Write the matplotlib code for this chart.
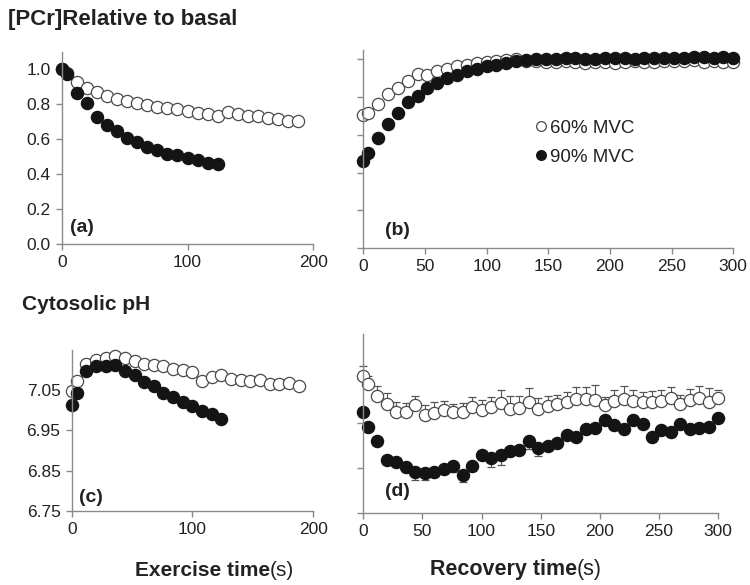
import matplotlib
matplotlib.use("Agg")
import matplotlib.pyplot as plt
from matplotlib.lines import Line2D

plt.rcParams['font.family'] = ['Liberation Sans', 'DejaVu Sans']

# time points (s)
t_ex60 = [0, 4, 12, 20, 28, 36, 44, 52, 60, 68, 76, 84, 92, 100, 108, 116, 124,
          132, 140, 148, 156, 164, 172, 180, 188]
t_ex90 = [0, 4, 12, 20, 28, 36, 44, 52, 60, 68, 76, 84, 92, 100, 108, 116, 124]
t_rec = [0, 4, 12, 20, 28, 36, 44, 52, 60, 68, 76, 84, 92, 100, 108, 116, 124,
         132, 140, 148, 156, 164, 172, 180, 188, 196, 204, 212, 220, 228, 236,
         244, 252, 260, 268, 276, 284, 292, 300]

# (a) PCr during exercise
pcr_ex60 = [1.0, 0.98, 0.924, 0.895, 0.867, 0.848, 0.83, 0.816, 0.805, 0.795,
            0.786, 0.778, 0.77, 0.76, 0.752, 0.745, 0.734, 0.757, 0.745, 0.735,
            0.73, 0.72, 0.715, 0.706, 0.706]
pcr_ex90 = [1.0, 0.97, 0.863, 0.806, 0.729, 0.681, 0.649, 0.607, 0.583, 0.554,
            0.535, 0.516, 0.507, 0.493, 0.478, 0.465, 0.455]

# (b) PCr during recovery
pcr_rec60 = [0.707, 0.716, 0.764, 0.818, 0.85, 0.885, 0.924, 0.92, 0.938, 0.947,
             0.965, 0.973, 0.982, 0.985, 0.99, 0.995, 1.0, 0.99, 0.99, 0.985,
             0.985, 0.99, 0.985, 0.98, 0.985, 0.985, 0.98, 0.985, 0.99, 0.985,
             0.985, 0.99, 0.99, 0.99, 0.995, 0.985, 0.99, 0.985, 0.985]
pcr_rec90 = [0.46, 0.504, 0.583, 0.66, 0.716, 0.775, 0.805, 0.85, 0.876, 0.903,
             0.92, 0.938, 0.947, 0.965, 0.973, 0.982, 0.99, 0.995, 1.0, 1.0,
             1.003, 1.005, 1.005, 1.0, 1.003, 1.005, 1.008, 1.005, 1.003, 1.005,
             1.008, 1.01, 1.008, 1.01, 1.012, 1.015, 1.01, 1.012, 1.005]

# (c) pH during exercise
ph_ex60 = [7.047, 7.072, 7.115, 7.125, 7.129, 7.135, 7.131, 7.123, 7.115, 7.113,
           7.109, 7.103, 7.101, 7.095, 7.074, 7.082, 7.087, 7.079, 7.076, 7.072,
           7.076, 7.065, 7.065, 7.068, 7.060]
ph_ex90 = [7.013, 7.043, 7.097, 7.111, 7.109, 7.113, 7.097, 7.087, 7.070, 7.060,
           7.043, 7.032, 7.021, 7.010, 6.999, 6.990, 6.978]

# (d) pH during recovery (+ SE)
ph_rec60 = [7.057, 7.037, 7.011, 6.993, 6.976, 6.976, 6.990, 6.969, 6.973, 6.979,
            6.976, 6.975, 6.986, 6.980, 6.987, 6.995, 6.982, 6.984, 6.997, 6.982,
            6.989, 6.993, 6.997, 7.004, 7.004, 7.003, 6.990, 7.000, 7.004, 7.000,
            6.998, 6.998, 7.000, 7.006, 6.993, 7.003, 7.006, 6.998, 7.006]
ph_rec60_se = [0.021, 0.020, 0.022, 0.025, 0.022, 0.020, 0.022, 0.022, 0.025, 0.020,
               0.018, 0.020, 0.023, 0.022, 0.023, 0.029, 0.029, 0.027, 0.031, 0.024,
               0.022, 0.020, 0.023, 0.027, 0.027, 0.032, 0.018, 0.025, 0.030, 0.025,
               0.022, 0.024, 0.024, 0.025, 0.020, 0.024, 0.028, 0.030, 0.018]
ph_rec90 = [6.975, 6.942, 6.911, 6.869, 6.864, 6.852, 6.841, 6.838, 6.841, 6.847,
            6.854, 6.834, 6.854, 6.880, 6.873, 6.880, 6.889, 6.891, 6.911, 6.894,
            6.900, 6.906, 6.924, 6.920, 6.937, 6.940, 6.957, 6.946, 6.937, 6.957,
            6.949, 6.920, 6.935, 6.930, 6.949, 6.938, 6.940, 6.942, 6.962]
ph_rec90_se = [0.008, 0.008, 0.008, 0.010, 0.010, 0.012, 0.018, 0.015, 0.012, 0.010,
               0.012, 0.016, 0.010, 0.010, 0.020, 0.024, 0.012, 0.010, 0.018, 0.016,
               0.010, 0.010, 0.010, 0.010, 0.010, 0.010, 0.010, 0.010, 0.010, 0.010,
               0.010, 0.010, 0.010, 0.010, 0.010, 0.010, 0.010, 0.010, 0.010]

labels = ['60% MVC', '90% MVC']

GREY = '#8a8a8a'
TXT = '#222222'
open_kw = dict(marker='o', ls='none', ms=8.8, mfc='white', mec='#4a4a4a', mew=0.9)
fill_kw = dict(marker='o', ls='none', ms=8.8, mfc='#141414', mec='#141414', mew=0.9)

fig = plt.figure(figsize=(7.5, 5.85), dpi=100)

ax_a = fig.add_axes([0.0823, 0.5829, 0.3355, 0.3287])
ax_b = fig.add_axes([0.4844, 0.5756, 0.4933, 0.339])
ax_c = fig.add_axes([0.0956, 0.127, 0.3221, 0.2747])
ax_d = fig.add_axes([0.4844, 0.1236, 0.4733, 0.3055])


def style(ax):
    for s in ['top', 'right']:
        ax.spines[s].set_visible(False)
    for s in ['left', 'bottom']:
        ax.spines[s].set_color(GREY)
        ax.spines[s].set_linewidth(1.0)
    ax.tick_params(direction='out', length=4, width=1, color=GREY,
                   labelsize=12.5, labelcolor=TXT, pad=4)


ax_a.plot(t_ex60, pcr_ex60, **open_kw)
ax_a.plot(t_ex90, pcr_ex90, **fill_kw)
ax_a.set_xlim(0, 200)
ax_a.set_ylim(0, 1.1)
ax_a.set_xticks([0, 100, 200])
ax_a.set_yticks([0, 0.2, 0.4, 0.6, 0.8, 1.0])
ax_a.set_yticklabels(['0.0', '0.2', '0.4', '0.6', '0.8', '1.0'])

ax_b.plot(t_rec, pcr_rec60, **open_kw)
ax_b.plot(t_rec, pcr_rec90, **fill_kw)
ax_b.set_xlim(0, 300)
ax_b.set_ylim(0, 1.05)
ax_b.set_xticks([0, 50, 100, 150, 200, 250, 300])
ax_b.set_yticks([0, 0.2, 0.4, 0.6, 0.8, 1.0])
ax_b.set_yticklabels([])

ax_c.plot(t_ex60, ph_ex60, **open_kw)
ax_c.plot(t_ex90, ph_ex90, **fill_kw)
ax_c.set_xlim(0, 200)
ax_c.set_ylim(6.75, 7.15)
ax_c.set_xticks([0, 100, 200])
ax_c.set_yticks([6.75, 6.85, 6.95, 7.05])
ax_c.set_yticklabels(['6.75', '6.85', '6.95', '7.05'])

zeros = [0] * len(t_rec)
ax_d.errorbar(t_rec, ph_rec60, yerr=[zeros, ph_rec60_se], ecolor='#555555',
              elinewidth=0.8, capsize=2.6, capthick=0.9, **open_kw)
ax_d.errorbar(t_rec, ph_rec90, yerr=[ph_rec90_se, zeros], ecolor='#555555',
              elinewidth=0.8, capsize=2.6, capthick=0.9, **fill_kw)
ax_d.set_xlim(0, 300)
ax_d.set_ylim(6.75, 7.15)
ax_d.set_xticks([0, 50, 100, 150, 200, 250, 300])
ax_d.set_yticks([6.75, 6.85, 6.95, 7.05])
ax_d.set_yticklabels([])

for ax in (ax_a, ax_b, ax_c, ax_d):
    style(ax)
    for ln in ax.lines:
        ln.set_clip_on(False)

panel_kw = dict(fontsize=14, fontweight='bold', color=TXT, va='center', ha='left')
ax_a.text(0.033, 0.088, '(a)', transform=ax_a.transAxes, **panel_kw)
ax_b.text(0.059, 0.092, '(b)', transform=ax_b.transAxes, **panel_kw)
ax_c.text(0.030, 0.085, '(c)', transform=ax_c.transAxes, **panel_kw)
ax_d.text(0.061, 0.116, '(d)', transform=ax_d.transAxes, **panel_kw)

handles = [Line2D([], [], marker='o', ls='none', ms=7, mfc='white', mec='#4a4a4a', mew=0.9),
           Line2D([], [], marker='o', ls='none', ms=7, mfc='#141414', mec='#141414', mew=0.9)]
ax_b.legend(handles, labels, loc='upper left', bbox_to_anchor=(0.42, 0.735),
            frameon=False, fontsize=13.5, handlelength=0.6, handletextpad=0.15,
            labelspacing=0.65, labelcolor=TXT)

fig.text(8 / 750, 1 - 20 / 585, '[PCr]Relative to basal', fontsize=16,
         fontweight='bold', color=TXT, va='center', ha='left')
fig.text(22 / 750, 1 - 305 / 585, 'Cytosolic pH', fontsize=15,
         fontweight='bold', color=TXT, va='center', ha='left')

fig.text(270 / 750, 1 - 570 / 585, 'Exercise time', fontsize=15,
         fontweight='bold', color=TXT, va='center', ha='right')
fig.text(270 / 750, 1 - 570 / 585, '(s)', fontsize=15, color=TXT,
         va='center', ha='left')
fig.text(577 / 750, 1 - 570 / 585, 'Recovery time', fontsize=15.5,
         fontweight='bold', color=TXT, va='center', ha='right')
fig.text(577 / 750, 1 - 570 / 585, '(s)', fontsize=15.5, color=TXT,
         va='center', ha='left')

fig.savefig('out.png', dpi=100, facecolor='white')
